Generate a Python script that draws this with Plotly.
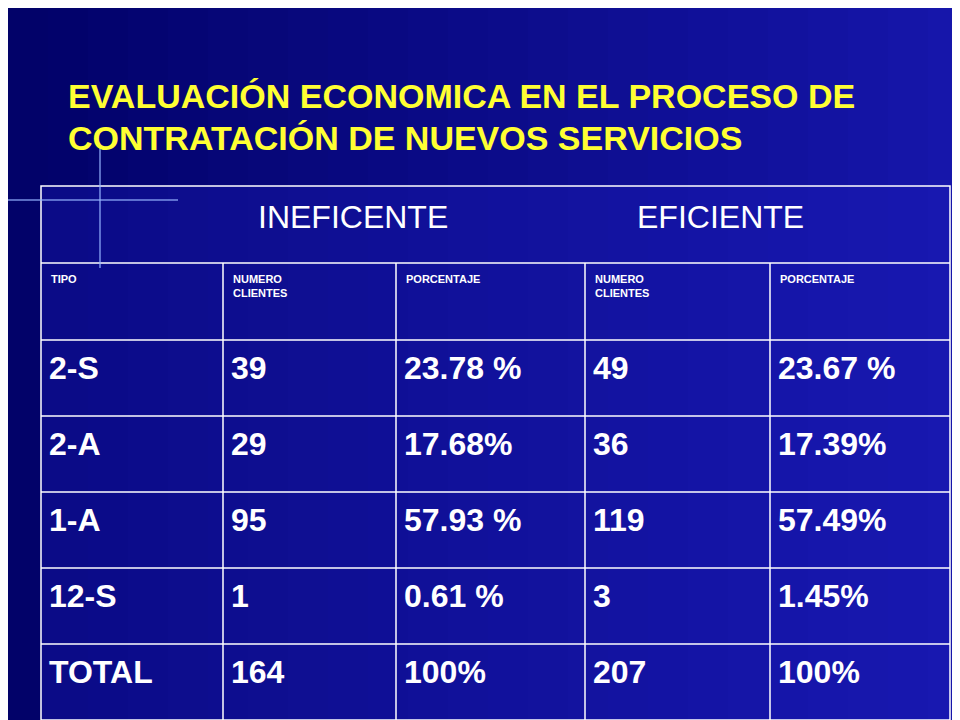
import plotly.graph_objects as go

title_lines = ["EVALUACIÓN ECONOMICA EN EL PROCESO DE", "CONTRATACIÓN DE NUEVOS SERVICIOS"]
group_labels = ["INEFICENTE", "EFICIENTE"]
header = ["TIPO", "NUMERO<br>CLIENTES", "PORCENTAJE", "NUMERO<br>CLIENTES", "PORCENTAJE"]
tipo = ["2-S", "2-A", "1-A", "12-S", "TOTAL"]
inef_num = ["39", "29", "95", "1", "164"]
inef_pct = ["23.78 %", "17.68%", "57.93 %", "0.61 %", "100%"]
efi_num = ["49", "36", "119", "3", "207"]
efi_pct = ["23.67 %", "17.39%", "57.49%", "1.45%", "100%"]

col_x = [33, 215, 388, 577, 762, 942]
row_y = [178, 255, 332, 408, 484, 560, 636, 712]

fig = go.Figure()

shapes = []
# background gradient (darker left, lighter right)
n = 24
for k in range(n):
    f = k / (n - 1)
    c = "rgb(%d,%d,%d)" % (int(2 + 20 * f), int(2 + 20 * f), int(105 + 65 * f))
    shapes.append(dict(type="rect", x0=960 * k / n, x1=960 * (k + 1) / n + 1, y0=0, y1=720,
                       line=dict(width=0), fillcolor=c, layer="below"))
shapes.append(dict(type="rect", x0=col_x[0], x1=col_x[-1], y0=row_y[0], y1=row_y[-1],
                   line=dict(color="white", width=1.5), fillcolor="rgba(30,30,190,0.35)", layer="below"))
for y in row_y[1:-1]:
    shapes.append(dict(type="line", x0=col_x[0], x1=col_x[-1], y0=y, y1=y, line=dict(color="white", width=1.5)))
for x in col_x[1:-1]:
    shapes.append(dict(type="line", x0=x, x1=x, y0=row_y[1], y1=row_y[-1], line=dict(color="white", width=1.5)))
# light flare
shapes.append(dict(type="line", x0=0, x1=170, y0=192, y1=192, line=dict(color="rgba(150,180,255,0.6)", width=2)))
shapes.append(dict(type="line", x0=92, x1=92, y0=140, y1=260, line=dict(color="rgba(150,180,255,0.6)", width=2)))

ann = []
for i, t in enumerate(title_lines):
    ann.append(dict(x=58, y=88 + i * 42, text="<b>%s</b>" % t, showarrow=False, xanchor="left",
                    yanchor="middle", font=dict(size=34, color="#ffff33")))
for t, x in zip(group_labels, [345, 712]):
    ann.append(dict(x=x, y=209, text=t, showarrow=False, xanchor="center", yanchor="middle",
                    font=dict(size=32, color="white")))
for j, h in enumerate(header):
    ann.append(dict(x=col_x[j] + 8, y=row_y[1] + 8, text="<b>%s</b>" % h, showarrow=False, xanchor="left",
                    yanchor="top", align="left", font=dict(size=11, color="white")))
cols = [tipo, inef_num, inef_pct, efi_num, efi_pct]
for j, col in enumerate(cols):
    for i, v in enumerate(col):
        ann.append(dict(x=col_x[j] + 6, y=row_y[i + 2] + 28, text="<b>%s</b>" % v, showarrow=False,
                        xanchor="left", yanchor="middle", font=dict(size=32, color="white")))

fig.update_layout(width=960, height=720, margin=dict(l=0, r=0, t=0, b=0, pad=0),
                  paper_bgcolor="#000080", plot_bgcolor="#000080",
                  font=dict(family="Liberation Sans Narrow, Liberation Sans, Arial"),
                  xaxis=dict(range=[0, 960], visible=False, fixedrange=True),
                  yaxis=dict(range=[720, 0], visible=False, fixedrange=True),
                  shapes=shapes, annotations=ann)
fig.write_html("out.html")
